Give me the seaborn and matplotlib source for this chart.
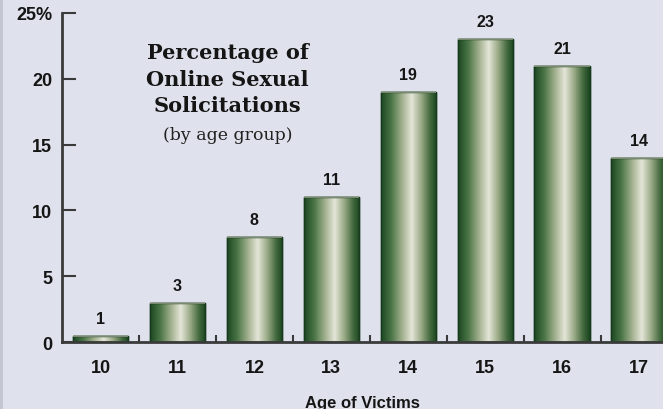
import matplotlib
matplotlib.use("Agg")

import matplotlib.pyplot as plt
import numpy as np
import pandas as pd
import seaborn as sns
from matplotlib.colors import LinearSegmentedColormap
from matplotlib.ticker import FixedLocator

# data
ages = ["10", "11", "12", "13", "14", "15", "16", "17"]
pct_drawn = [0.45, 3, 8, 11, 19, 23, 21, 14]   # bar heights as drawn
pct_label = ["1", "3", "8", "11", "19", "23", "21", "14"]
y_ticks = [0, 5, 10, 15, 20, 25]
y_tick_labels = ["0", "5", "10", "15", "20", "25%"]

BG = "#dfe2ec"
AXIS = "#3a3a3a"
INK = "#151515"

df = pd.DataFrame({"age": ages, "pct": pct_drawn})

sns.set_theme(style="white")
plt.rcParams["font.family"] = ["Liberation Sans", "DejaVu Sans"]

fig = plt.figure(figsize=(6.63, 4.10), dpi=100)
fig.patch.set_facecolor(BG)
# faint darker strip at the left edge of the scan
fig.add_artist(plt.Rectangle((0, 0), 0.005, 1, transform=fig.transFigure,
                             color="#c3c7d2", lw=0))
ax = fig.add_axes([0.0935, 0.1634, 0.9065, 0.8025])
ax.set_facecolor(BG)

sns.barplot(data=df, x="age", y="pct", color="#3f6b3a", width=0.72,
            edgecolor="#173a1c", linewidth=1.0, ax=ax)

# cylinder-like shading clipped to every bar
shade = LinearSegmentedColormap.from_list("cyl", [
    (0.0, "#1c4722"), (0.18, "#4a7445"), (0.38, "#a3b190"),
    (0.55, "#e4e6d8"), (0.72, "#9aaa86"), (0.88, "#43693e"), (1.0, "#1a4420"),
])
grad = np.linspace(0, 1, 256).reshape(1, -1)
for patch in list(ax.patches):
    x0, y0 = patch.get_x(), patch.get_y()
    w, h = patch.get_width(), patch.get_height()
    im = ax.imshow(grad, cmap=shade, aspect="auto", origin="lower",
                   extent=[x0, x0 + w, y0, y0 + h], zorder=patch.get_zorder() + 0.1,
                   interpolation="bilinear")
    im.set_clip_path(patch)
    ax.add_patch(plt.Rectangle((x0, y0), w, h, fill=False, edgecolor="#173a1c",
                               linewidth=1.0, zorder=patch.get_zorder() + 0.2))
    ax.plot([x0, x0 + w], [y0 + h, y0 + h], color="#8d9a88", lw=1.2,
            zorder=patch.get_zorder() + 0.3, solid_capstyle="butt")

for i, lab in enumerate(pct_label):
    ax.text(i, pct_drawn[i] + 0.75, lab, ha="center", va="bottom",
            fontsize=11.5, fontweight="bold", color=INK)

ax.set_xlim(-0.5, 7.31)
ax.set_ylim(0, 25)
ax.set_yticks(y_ticks)
ax.set_yticklabels(y_tick_labels, fontsize=13, fontweight="bold", color=INK)
ax.tick_params(axis="y", direction="in", length=10, width=1.5, color=AXIS, pad=7, left=True)
ax.tick_params(axis="x", which="major", length=0, pad=12, labelsize=13)
for t in ax.get_xticklabels():
    t.set_fontweight("bold")
    t.set_color(INK)
ax.xaxis.set_minor_locator(FixedLocator([i + 0.5 for i in range(7)]))
ax.tick_params(axis="x", which="minor", direction="in", length=5, width=1.5,
               color=AXIS, bottom=True)

sns.despine(ax=ax, top=True, right=True)
for side in ["left", "bottom"]:
    ax.spines[side].set_color(AXIS)
    ax.spines[side].set_linewidth(2)

ax.set_xlabel("Age of Victims", fontsize=12, fontweight="bold", color=INK, labelpad=14)
ax.set_ylabel("")

ax.text(1.65, 20.0, "Percentage of\nOnline Sexual\nSolicitations", ha="center", va="center",
        fontsize=15, fontweight="bold", family=["DejaVu Serif"], color=INK,
        linespacing=1.4)
ax.text(1.65, 15.8, "(by age group)", ha="center", va="center",
        fontsize=12.5, family=["DejaVu Serif"], color="#222222")

fig.savefig("out.png", dpi=100, facecolor=BG)
